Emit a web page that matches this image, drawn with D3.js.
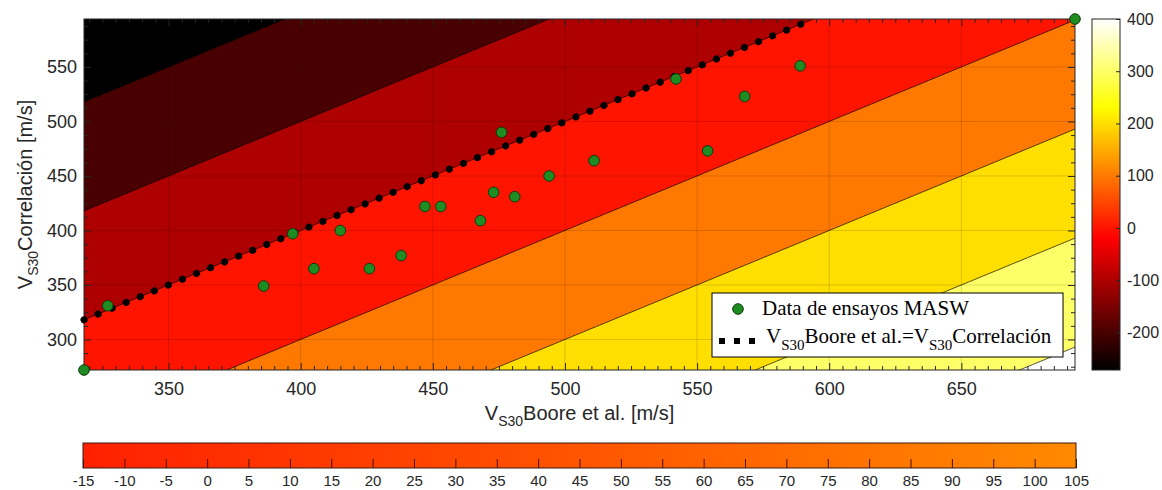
<!DOCTYPE html>
<html>
<head>
<meta charset="utf-8">
<script src="https://cdn.jsdelivr.net/npm/d3@7"></script>
<style>
body { margin: 0; background: #fff; }
svg { display: block; }
</style>
</head>
<body>
<script>
var width = 1162;
var height = 490;

// data
var booreVs30 = [318, 327, 386, 397, 405, 415, 426, 438, 447, 453, 468, 473, 476, 481, 494, 511, 542, 554, 568, 589, 693];
var correlVs30 = [272, 331, 349, 397, 365, 400, 365, 377, 422, 422, 409, 435, 490, 431, 450, 464, 539, 473, 523, 551, 594];
var oneToOne = [318, 590];
var contourLevels = [-200, -100, 0, 100, 200, 300, 400];
var xTicks = [350, 400, 450, 500, 550, 600, 650];
var yTicks = [300, 350, 400, 450, 500, 550];
var cbarTicks = [-200, -100, 0, 100, 200, 300, 400];
var errTicks = [-15, -10, -5, 0, 5, 10, 15, 20, 25, 30, 35, 40, 45, 50, 55, 60, 65, 70, 75, 80, 85, 90, 95, 100, 105];
var xDomain = [318, 693];
var yDomain = [272, 594];
var cDomain = [-272, 400];
var errDomain = [-15, 105];
var errColors = ["#ff2000", "#ff8a00"];

var plot = {left: 84, right: 1075, top: 19, bottom: 370};

var svg = d3.select("body").append("svg")
    .attr("width", width)
    .attr("height", height)
    .style("background", "#fff");

var x = d3.scaleLinear().domain(xDomain).range([plot.left, plot.right]);
var y = d3.scaleLinear().domain(yDomain).range([plot.bottom, plot.top]);
var cNorm = d3.scaleLinear().domain(cDomain).range([0, 1]).clamp(true);
var plain = function (d) { return String(d); };

// matlab "hot"
function hot(t) {
    var r = Math.min(1, Math.max(0, t / 0.375));
    var g = Math.min(1, Math.max(0, (t - 0.375) / 0.375));
    var b = Math.min(1, Math.max(0, (t - 0.75) / 0.25));
    return d3.rgb(r * 255, g * 255, b * 255).formatHex();
}

var defs = svg.append("defs");
defs.append("clipPath").attr("id", "plotclip")
    .append("rect")
    .attr("x", plot.left).attr("y", plot.top)
    .attr("width", plot.right - plot.left).attr("height", plot.bottom - plot.top);

// contour field z = Boore - Correlacion
var gx0 = xDomain[0] - 8, gy0 = yDomain[0] - 8;
var n = xDomain[1] - xDomain[0] + 17, m = yDomain[1] - yDomain[0] + 17;
var values = new Array(n * m);
for (var j = 0; j < m; j++) {
    for (var i = 0; i < n; i++) {
        values[i + j * n] = (gx0 + i) - (gy0 + j);
    }
}
var contours = d3.contours().size([n, m]).thresholds(contourLevels)(values);
var proj = d3.geoTransform({
    point: function (px, py) {
        this.stream.point(x(gx0 + px - 0.5), y(gy0 + py - 0.5));
    }
});
var path = d3.geoPath(proj);

var field = svg.append("g").attr("clip-path", "url(#plotclip)");
field.append("rect")
    .attr("x", plot.left).attr("y", plot.top)
    .attr("width", plot.right - plot.left).attr("height", plot.bottom - plot.top)
    .attr("fill", hot(0));

field.selectAll("path.band")
    .data(contours)
    .enter().append("path")
    .attr("class", "band")
    .attr("d", path)
    .attr("fill", function (d) { return hot(cNorm(d.value)); })
    .attr("stroke", "#000")
    .attr("stroke-opacity", 0.85)
    .attr("stroke-width", 0.8);

// grid
field.selectAll("line.gx")
    .data(xTicks)
    .enter().append("line")
    .attr("x1", function (d) { return x(d); }).attr("x2", function (d) { return x(d); })
    .attr("y1", plot.top).attr("y2", plot.bottom)
    .attr("stroke", "#000").attr("stroke-opacity", 0.14).attr("stroke-width", 1);
field.selectAll("line.gy")
    .data(yTicks)
    .enter().append("line")
    .attr("y1", function (d) { return y(d); }).attr("y2", function (d) { return y(d); })
    .attr("x1", plot.left).attr("x2", plot.right)
    .attr("stroke", "#000").attr("stroke-opacity", 0.14).attr("stroke-width", 1);

// axes, ticks inward on all sides
function styleAxis(g, size) {
    g.select(".domain").remove();
    g.attr("font-family", "'Liberation Sans', Arial, sans-serif").attr("font-size", size);
    g.selectAll("line").attr("stroke", "#262626");
    g.selectAll("text").attr("fill", "#262626");
}
var xMinor = d3.range(320, 693, 5).filter(function (v) { return xTicks.indexOf(v) < 0; });
var yMinor = d3.range(275, 594, 12.5).filter(function (v) { return yTicks.indexOf(v) < 0; });

svg.append("g").attr("transform", "translate(0," + plot.bottom + ")")
    .call(d3.axisBottom(x).tickValues(xTicks).tickFormat(plain).tickSizeInner(-7).tickSizeOuter(0).tickPadding(12))
    .call(styleAxis, 18);
svg.append("g").attr("transform", "translate(0," + plot.bottom + ")")
    .call(d3.axisBottom(x).tickValues(xMinor).tickSizeInner(-4).tickSizeOuter(0).tickFormat(""))
    .call(styleAxis, 18);
svg.append("g").attr("transform", "translate(0," + plot.top + ")")
    .call(d3.axisTop(x).tickValues(xTicks).tickSizeInner(-7).tickSizeOuter(0).tickFormat(""))
    .call(styleAxis, 18);
svg.append("g").attr("transform", "translate(0," + plot.top + ")")
    .call(d3.axisTop(x).tickValues(xMinor).tickSizeInner(-4).tickSizeOuter(0).tickFormat(""))
    .call(styleAxis, 18);
svg.append("g").attr("transform", "translate(" + plot.left + ",0)")
    .call(d3.axisLeft(y).tickValues(yTicks).tickFormat(plain).tickSizeInner(-7).tickSizeOuter(0).tickPadding(7))
    .call(styleAxis, 18);
svg.append("g").attr("transform", "translate(" + plot.left + ",0)")
    .call(d3.axisLeft(y).tickValues(yMinor).tickSizeInner(-4).tickSizeOuter(0).tickFormat(""))
    .call(styleAxis, 18);
svg.append("g").attr("transform", "translate(" + plot.right + ",0)")
    .call(d3.axisRight(y).tickValues(yTicks).tickSizeInner(-7).tickSizeOuter(0).tickFormat(""))
    .call(styleAxis, 18);
svg.append("g").attr("transform", "translate(" + plot.right + ",0)")
    .call(d3.axisRight(y).tickValues(yMinor).tickSizeInner(-4).tickSizeOuter(0).tickFormat(""))
    .call(styleAxis, 18);

svg.append("rect")
    .attr("x", plot.left).attr("y", plot.top)
    .attr("width", plot.right - plot.left).attr("height", plot.bottom - plot.top)
    .attr("fill", "none").attr("stroke", "#262626").attr("stroke-width", 1);

// 1:1 line
var line = d3.line().x(function (d) { return x(d); }).y(function (d) { return y(d); });
svg.append("path")
    .datum(oneToOne)
    .attr("d", line)
    .attr("fill", "none")
    .attr("stroke", "#000")
    .attr("stroke-width", 7)
    .attr("stroke-linecap", "round")
    .attr("stroke-dasharray", "0.1 15.1");

// MASW points
svg.selectAll("circle.pt")
    .data(booreVs30)
    .enter().append("circle")
    .attr("class", "pt")
    .attr("cx", function (d) { return x(d); })
    .attr("cy", function (d, k) { return y(correlVs30[k]); })
    .attr("r", 5.3)
    .attr("fill", "#1f8c22")
    .attr("stroke", "#0c3a0c")
    .attr("stroke-width", 1);

// text with V_S30 subscript
function subLabel(sel, rest, big, small, shift) {
    sel.append("tspan").attr("font-size", big).text("V");
    sel.append("tspan").attr("font-size", small).attr("dy", shift).text("S30");
    sel.append("tspan").attr("font-size", big).attr("dy", -shift).text(rest);
}

var xlab = svg.append("text")
    .attr("x", (plot.left + plot.right) / 2)
    .attr("y", 420)
    .attr("text-anchor", "middle")
    .attr("font-family", "'Liberation Sans', Arial, sans-serif")
    .attr("fill", "#262626");
subLabel(xlab, "Boore et al. [m/s]", 20, 14, 6);

var ylab = svg.append("text")
    .attr("transform", "translate(32," + ((plot.top + plot.bottom) / 2) + ") rotate(-90)")
    .attr("text-anchor", "middle")
    .attr("font-family", "'Liberation Sans', Arial, sans-serif")
    .attr("fill", "#262626");
subLabel(ylab, "Correlación [m/s]", 20, 14, 6);

// legend
var leg = svg.append("g");
leg.append("rect")
    .attr("x", 712).attr("y", 293).attr("width", 351).attr("height", 64)
    .attr("fill", "#fff").attr("stroke", "#000").attr("stroke-width", 1);
leg.append("circle")
    .attr("cx", 738).attr("cy", 309).attr("r", 5.3)
    .attr("fill", "#1f8c22").attr("stroke", "#0c3a0c").attr("stroke-width", 1);
leg.append("text")
    .attr("x", 762).attr("y", 315)
    .attr("font-family", "'Liberation Serif', 'Times New Roman', serif")
    .attr("font-size", 21).attr("fill", "#000")
    .text("Data de ensayos MASW");
leg.append("line")
    .attr("x1", 719).attr("x2", 757).attr("y1", 341).attr("y2", 341)
    .attr("stroke", "#000").attr("stroke-width", 6)
    .attr("stroke-dasharray", "6 9");
var legT = leg.append("text")
    .attr("x", 766).attr("y", 343)
    .attr("font-family", "'Liberation Serif', 'Times New Roman', serif")
    .attr("fill", "#000");
legT.append("tspan").attr("font-size", 21).text("V");
legT.append("tspan").attr("font-size", 15).attr("dy", 7).text("S30");
legT.append("tspan").attr("font-size", 21).attr("dy", -7).text("Boore et al.=V");
legT.append("tspan").attr("font-size", 15).attr("dy", 7).text("S30");
legT.append("tspan").attr("font-size", 21).attr("dy", -7).text("Correlación");

// right colorbar
var cb = {left: 1092, right: 1120, top: plot.top, bottom: plot.bottom};
var cbY = d3.scaleLinear().domain(cDomain).range([cb.bottom, cb.top]);
var hotGrad = defs.append("linearGradient").attr("id", "hotgrad")
    .attr("x1", 0).attr("y1", 1).attr("x2", 0).attr("y2", 0);
hotGrad.selectAll("stop")
    .data(d3.range(0, 1.0001, 1 / 48))
    .enter().append("stop")
    .attr("offset", function (d) { return d; })
    .attr("stop-color", function (d) { return hot(d); });
svg.append("rect")
    .attr("x", cb.left).attr("y", cb.top)
    .attr("width", cb.right - cb.left).attr("height", cb.bottom - cb.top)
    .attr("fill", "url(#hotgrad)");
svg.append("g").attr("transform", "translate(" + cb.right + ",0)")
    .call(d3.axisRight(cbY).tickValues(cbarTicks).tickFormat(plain).tickSizeInner(-4).tickSizeOuter(0).tickPadding(7))
    .call(styleAxis, 16);
svg.append("rect")
    .attr("x", cb.left).attr("y", cb.top)
    .attr("width", cb.right - cb.left).attr("height", cb.bottom - cb.top)
    .attr("fill", "none").attr("stroke", "#262626").attr("stroke-width", 1);

// bottom colorbar
var eb = {left: 83, right: 1076, top: 443, bottom: 468};
var ebX = d3.scaleLinear().domain(errDomain).range([eb.left, eb.right]);
var errColor = d3.scaleLinear().domain(errDomain).range(errColors);
var errGrad = defs.append("linearGradient").attr("id", "errgrad")
    .attr("x1", 0).attr("y1", 0).attr("x2", 1).attr("y2", 0);
errGrad.selectAll("stop")
    .data(errDomain)
    .enter().append("stop")
    .attr("offset", function (d, k) { return k; })
    .attr("stop-color", function (d) { return errColor(d); });
svg.append("rect")
    .attr("x", eb.left).attr("y", eb.top)
    .attr("width", eb.right - eb.left).attr("height", eb.bottom - eb.top)
    .attr("fill", "url(#errgrad)");
var eAxis = svg.append("g").attr("transform", "translate(0," + eb.bottom + ")")
    .call(d3.axisBottom(ebX).tickValues(errTicks).tickFormat(plain).tickSizeInner(-9).tickSizeOuter(0).tickPadding(7))
    .call(styleAxis, 15);
eAxis.selectAll("line").attr("stroke", "#4a1200");
svg.append("rect")
    .attr("x", eb.left).attr("y", eb.top)
    .attr("width", eb.right - eb.left).attr("height", eb.bottom - eb.top)
    .attr("fill", "none").attr("stroke", "#3a1a10").attr("stroke-width", 1);
</script>
</body>
</html>
